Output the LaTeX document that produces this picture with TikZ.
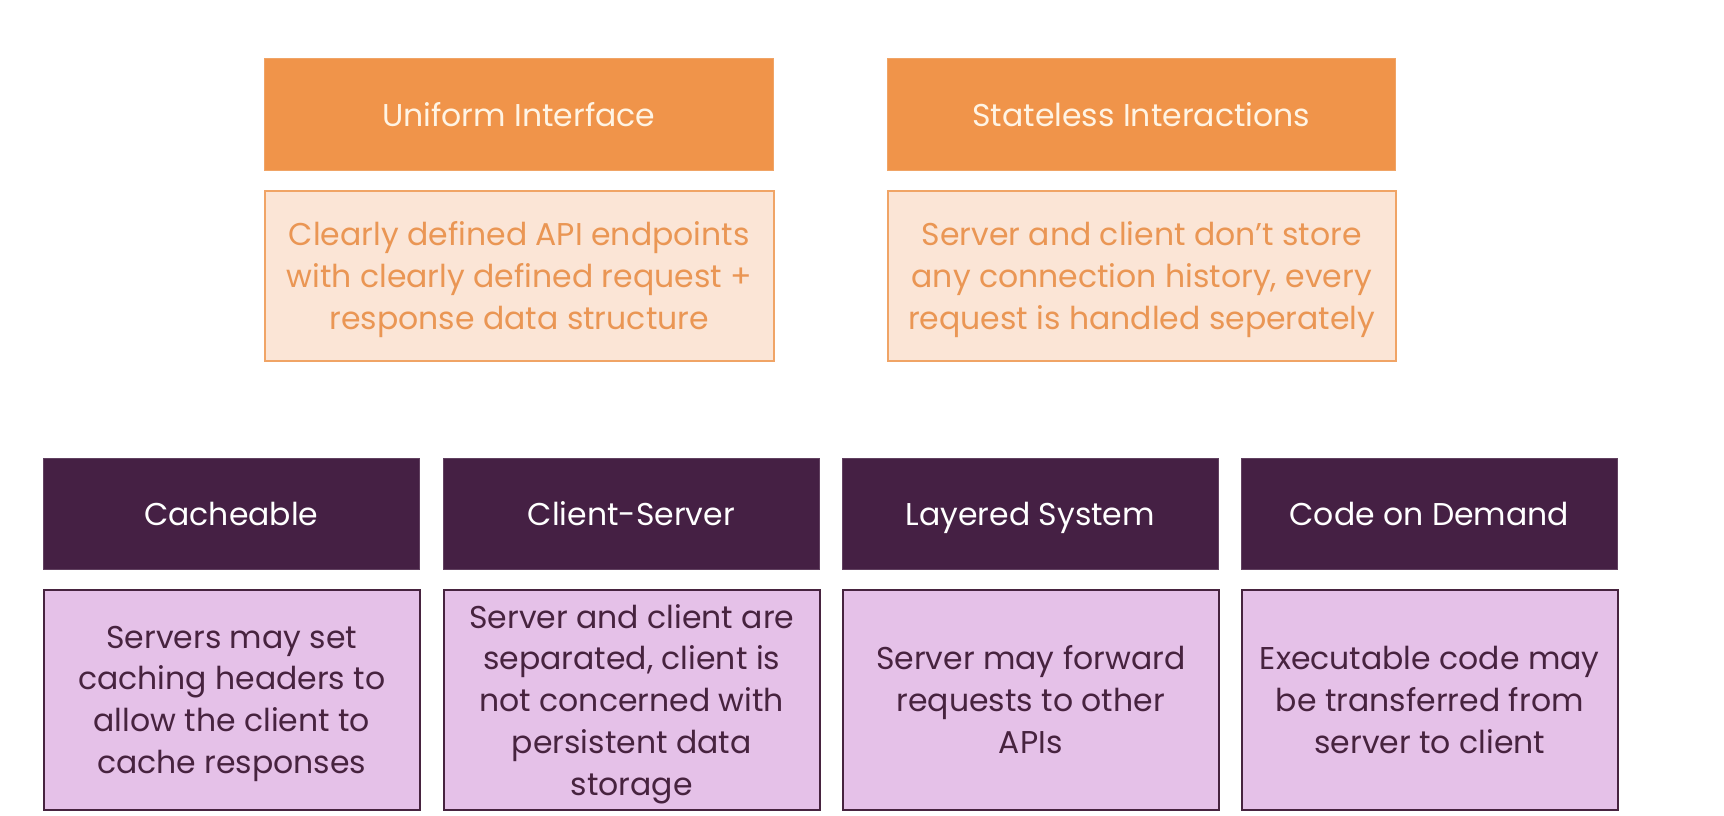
\documentclass[tikz,border=0pt]{standalone}
\usepackage{fontspec}
\setmainfont{Poppins}
\definecolor{orH}{HTML}{F0944A}
\definecolor{orB}{HTML}{FBE5D6}
\definecolor{orT}{HTML}{EA9654}
\definecolor{orL}{HTML}{F0A466}
\definecolor{orHT}{HTML}{FFF4E4}
\definecolor{puH}{HTML}{452044}
\definecolor{puB}{HTML}{E5C1E8}
\definecolor{puT}{HTML}{47233F}
\begin{document}
\begin{tikzpicture}[x=1pt,y=-1pt,
  box/.style={rectangle,inner sep=0pt,anchor=north west,align=center,text depth=0pt,font=\fontsize{31.5}{41.8}\selectfont},
  ohead/.style={box,fill=orH,draw=orL,line width=0.6pt,text=orHT},
  obody/.style={box,fill=orB,draw=orL,line width=1.5pt,text=orT},
  phead/.style={box,fill=puH,draw=puH!85!white,line width=0.6pt,text=white},
  pbody/.style={box,fill=puB,draw=puT,line width=1.5pt,text=puT}]
\useasboundingbox[fill=white] (0,0) rectangle (1724,816);
% top row
\node[ohead,minimum width=509pt,minimum height=112pt] (uih) at (264,58) {Uniform Interface};
\node[obody,minimum width=509pt,minimum height=170pt] (uib) at (264,190) {Clearly defined API endpoints\\with clearly defined request +\\response data structure};
\node[ohead,minimum width=508pt,minimum height=112pt] (sih) at (887,58) {Stateless Interactions};
\node[obody,minimum width=508pt,minimum height=170pt] (sib) at (887,190) {Server and client don’t store\\any connection history, every\\request is handled seperately};
% bottom row
\node[phead,minimum width=376pt,minimum height=111pt] (cah) at (43,458) {Cacheable};
\node[pbody,minimum width=376pt,minimum height=220pt] (cab) at (43,589) {Servers may set\\caching headers to\\allow the client to\\cache responses};
\node[phead,minimum width=376pt,minimum height=111pt] (csh) at (443,458) {Client-Server};
\node[pbody,minimum width=376pt,minimum height=220pt] (csb) at (443,589) {Server and client are\\separated, client is\\not concerned with\\persistent data\\storage};
\node[phead,minimum width=376pt,minimum height=111pt] (lsh) at (842,458) {Layered System};
\node[pbody,minimum width=376pt,minimum height=220pt] (lsb) at (842,589) {Server may forward\\requests to other\\APIs};
\node[phead,minimum width=376pt,minimum height=111pt] (cdh) at (1241,458) {Code on Demand};
\node[pbody,minimum width=376pt,minimum height=220pt] (cdb) at (1241,589) {Executable code may\\be transferred from\\server to client};
\end{tikzpicture}
\end{document}
